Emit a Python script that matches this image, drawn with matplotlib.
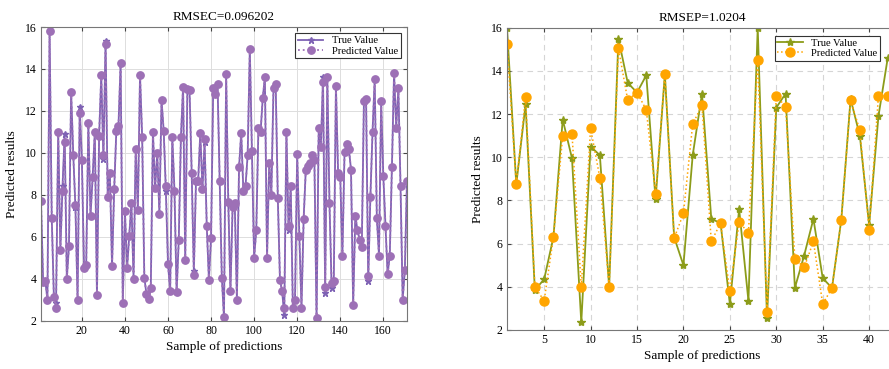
import numpy as np
import matplotlib
matplotlib.use("Agg")
import matplotlib.pyplot as plt

plt.rcParams["font.family"] = "Liberation Serif"

# calibration set (left)
true_cal = [
    7.7, 3.85, 3.9, 3.0, 15.8, 6.9, 3.1, 2.85, 11.0, 5.35,
    8.4, 10.9, 4.0, 5.55, 12.9, 9.9, 7.4, 3.0, 12.2, 9.65,
    4.5, 4.65, 11.4, 7.0, 8.85, 11.0, 3.2, 10.8, 13.7, 9.7,
    15.35, 7.9, 9.05, 4.6, 8.25, 11.05, 11.3, 14.3, 2.85, 7.2,
    4.5, 6.05, 7.6, 4.0, 10.2, 7.25, 13.7, 10.75, 4.05, 3.25,
    3.05, 3.55, 11.0, 8.3, 10.0, 7.1, 12.5, 11.05, 8.2, 4.7,
    3.4, 10.75, 8.2, 3.35, 5.85, 10.75, 13.15, 4.9, 13.05, 13.0,
    9.05, 4.35, 8.65, 8.65, 10.95, 8.25, 10.5, 6.5, 3.95, 5.95,
    13.1, 12.8, 13.3, 8.65, 4.05,
    2.15, 13.75, 7.65, 3.4, 7.4, 7.6, 3.0, 9.3, 10.95, 8.2,
    8.4, 9.9, 14.95, 10.1, 5.0, 6.3, 11.2, 11.0, 12.6, 13.6,
    5.0, 9.5, 8.0, 13.1, 13.3, 7.85, 3.95, 3.4, 2.25, 11.0,
    6.3, 8.4, 2.6, 3.0, 9.95, 6.05, 2.6, 6.85, 9.2, 9.35,
    9.5, 9.9, 9.65, 2.1, 11.2, 10.3, 13.6, 3.3, 13.6, 7.6,
    3.55, 3.9, 13.2, 9.05, 8.85, 5.1, 10.05, 10.4, 10.2, 9.2,
    2.75, 7.0, 6.3, 5.85, 5.5, 12.45, 12.55, 3.9, 7.9, 11.0,
    13.5, 6.9, 5.1, 12.45, 8.9, 6.5, 4.2, 5.1, 9.3, 13.8,
    11.2, 13.1, 8.4, 3.0, 4.4, 8.65,
]
pred_cal = [
    7.7, 3.85, 3.9, 3.0, 15.8, 6.9, 3.1, 2.6, 11.0, 5.35,
    8.2, 10.5, 4.0, 5.55, 12.9, 9.9, 7.5, 3.0, 11.9, 9.65,
    4.5, 4.65, 11.4, 7.0, 8.85, 11.0, 3.2, 10.8, 13.7, 9.9,
    15.2, 7.9, 9.05, 4.6, 8.25, 11.05, 11.3, 14.3, 2.85, 7.2,
    4.5, 6.05, 7.6, 4.0, 10.2, 7.25, 13.7, 10.75, 4.05, 3.25,
    3.05, 3.55, 11.0, 8.3, 10.0, 7.1, 12.5, 11.05, 8.4, 4.7,
    3.4, 10.75, 8.2, 3.35, 5.85, 10.75, 13.15, 4.9, 13.05, 13.0,
    9.05, 4.15, 8.65, 8.65, 10.95, 8.25, 10.65, 6.5, 3.95, 5.95,
    13.1, 12.8, 13.3, 8.65, 4.05,
    2.15, 13.75, 7.65, 3.4, 7.4, 7.6, 3.0, 9.3, 10.95, 8.2,
    8.4, 9.9, 14.95, 10.1, 5.0, 6.3, 11.2, 11.0, 12.6, 13.6,
    5.0, 9.5, 8.0, 13.1, 13.3, 7.85, 3.95, 3.4, 2.6, 11.0,
    6.5, 8.4, 2.6, 3.0, 9.95, 6.05, 2.6, 6.85, 9.2, 9.35,
    9.5, 9.9, 9.65, 2.1, 11.2, 10.3, 13.4, 3.6, 13.6, 7.6,
    3.8, 3.9, 13.2, 9.05, 8.85, 5.1, 10.05, 10.4, 10.2, 9.2,
    2.75, 7.0, 6.3, 5.85, 5.5, 12.45, 12.55, 4.1, 7.9, 11.0,
    13.5, 6.9, 5.1, 12.45, 8.9, 6.5, 4.2, 5.1, 9.3, 13.8,
    11.2, 13.1, 8.4, 3.0, 4.4, 8.65,
]

# prediction set (right)
true_test = [16.0, 8.75, 12.45, 3.85, 4.35, 6.3, 11.75, 9.95, 2.35, 10.5,
             10.1, 4.0, 15.5, 13.45, 13.0, 13.8, 8.05, 13.85, 6.3, 5.0,
             10.1, 12.95, 7.15, 6.95, 3.2, 7.6, 3.35, 16.0, 2.55, 12.3,
             12.95, 3.95, 5.45, 7.15, 4.4, 3.95, 7.1, 12.7, 11.0, 6.85,
             11.9, 14.6]
pred_test = [15.25, 8.75, 12.8, 4.0, 3.35, 6.3, 11.0, 11.1, 4.0, 11.35,
             9.05, 4.0, 15.05, 12.65, 13.0, 12.2, 8.3, 13.85, 6.25, 7.4,
             11.55, 12.4, 6.1, 6.95, 3.8, 7.0, 6.5, 14.5, 2.85, 12.85,
             12.35, 5.3, 4.9, 6.1, 3.2, 3.95, 7.1, 12.65, 11.25, 6.65,
             12.85, 12.85]

fig = plt.figure(figsize=(8.89, 3.69), dpi=100)
ax1 = fig.add_axes([0.0461, 0.1314, 0.4117, 0.7954])
ax2 = fig.add_axes([0.5703, 0.1057, 0.4387, 0.819])

x_cal = np.arange(1, len(true_cal) + 1)
ax1.plot(x_cal, true_cal, "-", color="#7e62b4", lw=1.3, marker="*", ms=5,
         label="True Value")
ax1.plot(x_cal, pred_cal, ":", color="#9d70b6", lw=1.3, marker="o", ms=5.3,
         label="Predicted Value")
ax1.set_xlim(1, len(true_cal))
ax1.set_ylim(2, 16)
ax1.set_xticks(range(20, 161, 20))
ax1.set_yticks(range(2, 17, 2))
ax1.grid(True, color="#dddddd", lw=0.7)
ax1.set_title("RMSEC=0.096202", fontsize=9.5, pad=5)

x_test = np.arange(1, len(true_test) + 1)
ax2.plot(x_test, true_test, "-", color="#8c9c1a", lw=1.3, marker="*", ms=6,
         label="True Value")
ax2.plot(x_test, pred_test, ":", color="#ffa500", lw=1.1, marker="o", ms=6.5,
         label="Predicted Value")
ax2.set_xlim(1, 43)
ax2.set_ylim(2, 16)
ax2.set_xticks(range(5, 41, 5))
ax2.set_yticks(range(2, 17, 2))
ax2.grid(True, color="#d5d5d5", lw=0.8, ls=(0, (5, 4)))
ax2.set_title("RMSEP=1.0204", fontsize=9.5, pad=5)

for ax in (ax1, ax2):
    ax.set_axisbelow(True)
    ax.set_xlabel("Sample of predictions", fontsize=9.5, labelpad=3)
    ax.set_ylabel("Predicted results", fontsize=9.5, labelpad=5)
    ax.tick_params(direction="in", top=True, right=True, labelsize=8.5,
                   length=3, color="#444444", pad=3)
    for s in ax.spines.values():
        s.set_color("#777777")
        s.set_linewidth(0.8)
    leg = ax.legend(loc="upper right", fontsize=7.6, fancybox=False,
                    framealpha=1, edgecolor="#333333", borderpad=0.25,
                    handlelength=2.4, labelspacing=0.1, borderaxespad=0.6)
    leg.get_frame().set_linewidth(0.8)

# right legend sits inside the visible part of the cropped axes
ax2.get_legend().set_bbox_to_anchor((0.972, 0.995), transform=ax2.transAxes)

fig.savefig("out.png", dpi=100)
